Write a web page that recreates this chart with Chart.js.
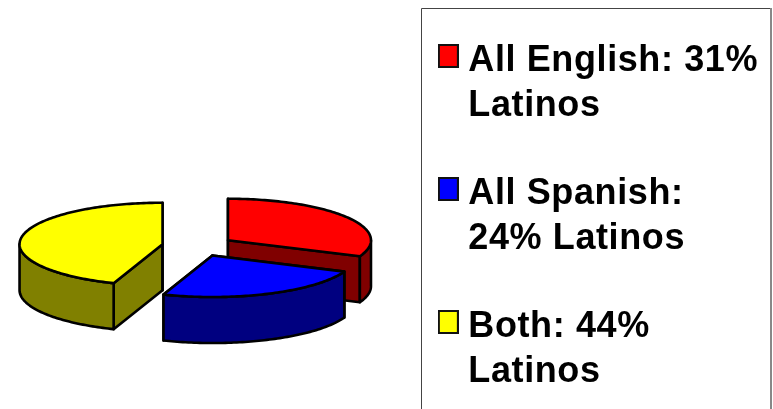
<!DOCTYPE html>
<html>
<head>
<meta charset="utf-8">
<style>
  html, body { margin: 0; padding: 0; background: #fff; overflow: hidden; }
  #wrap { width: 773px; height: 409px; overflow: hidden; }
  canvas { display: block; }
</style>
<script src="https://cdn.jsdelivr.net/npm/chart.js@4/dist/chart.umd.min.js"></script>
</head>
<body>
<div id="wrap"><canvas id="myChart" width="773" height="480"></canvas></div>
<script>
const categories = ["All English", "All Spanish", "Both"];
const shares = [31, 24, 44];
const legendLines = [
  ["All English: 31%", "Latinos"],
  ["All Spanish:", "24% Latinos"],
  ["Both: 44%", "Latinos"],
];
const topColors = ["#ff0000", "#0000ff", "#ffff00"];
const sideColors = ["#800000", "#000080", "#808000"];
const drawOrder = [0, 2, 1];

// where the pie lands on the page and how flat it looks
const pieX = 198;
const pieY = 246;
const squash = 0.29;
const depth = 46;
const explode = 36;

// legend marker, blank space below it lifts it up to the text's cap height
function swatch(color) {
  const c = document.createElement("canvas");
  c.width = 21;
  c.height = 34;
  const g = c.getContext("2d");
  g.fillStyle = "#111";
  g.fillRect(0, 0, 21, 24);
  g.fillStyle = color;
  g.fillRect(2, 2, 17, 20);
  return c;
}

const pie3d = {
  id: "pie3d",
  beforeLayout(chart) {
    chart.ctx.letterSpacing = "0.6px";
  },
  beforeDraw(chart) {
    chart.ctx.letterSpacing = "0.6px";
  },
  beforeDatasetsDraw(chart) {
    const ctx = chart.ctx;
    const arcs = chart.getDatasetMeta(0).data;

    drawOrder.forEach((i) => {
      const arc = arcs[i];
      const mid = (arc.startAngle + arc.endAngle) / 2;
      const r = arc.outerRadius;
      const ax = pieX + Math.cos(mid) * explode;
      const ay = pieY + Math.sin(mid) * explode * squash;
      const rimX = (a) => ax + Math.cos(a) * r;
      const rimY = (a) => ay + Math.sin(a) * r * squash;

      ctx.save();
      ctx.lineWidth = 2.6;
      ctx.lineJoin = "round";
      ctx.strokeStyle = "#000";
      ctx.fillStyle = sideColors[i];

      // cut faces first, the rim wall and top cover what is hidden
      [arc.startAngle, arc.endAngle].forEach((a) => {
        ctx.beginPath();
        ctx.moveTo(ax, ay);
        ctx.lineTo(rimX(a), rimY(a));
        ctx.lineTo(rimX(a), rimY(a) + depth);
        ctx.lineTo(ax, ay + depth);
        ctx.closePath();
        ctx.fill();
        ctx.stroke();
      });

      // rim wall, only the part facing the viewer
      const from = Math.max(arc.startAngle, 0);
      const to = Math.min(arc.endAngle, Math.PI);
      if (to > from) {
        ctx.beginPath();
        for (let a = from; a < to; a += 0.02) ctx.lineTo(rimX(a), rimY(a));
        ctx.lineTo(rimX(to), rimY(to));
        ctx.lineTo(rimX(to), rimY(to) + depth);
        for (let a = to; a > from; a -= 0.02) ctx.lineTo(rimX(a), rimY(a) + depth);
        ctx.lineTo(rimX(from), rimY(from) + depth);
        ctx.closePath();
        ctx.fill();
        ctx.stroke();
      }

      // top face: the library's own arc, flattened
      ctx.save();
      ctx.translate(ax - arc.x, ay);
      ctx.scale(1, squash);
      ctx.translate(0, -arc.y);
      arc.draw(ctx);
      ctx.restore();

      ctx.beginPath();
      ctx.moveTo(ax, ay);
      for (let a = arc.startAngle; a < arc.endAngle; a += 0.02) ctx.lineTo(rimX(a), rimY(a));
      ctx.lineTo(rimX(arc.endAngle), rimY(arc.endAngle));
      ctx.closePath();
      ctx.stroke();
      ctx.restore();
    });
    return false;
  },
  afterDraw(chart) {
    const ctx = chart.ctx;
    ctx.save();
    ctx.lineWidth = 1;
    ctx.strokeStyle = "#444";
    ctx.beginPath();
    ctx.moveTo(421.5, 480);
    ctx.lineTo(421.5, 8.5);
    ctx.lineTo(770.5, 8.5);
    ctx.stroke();
    ctx.strokeStyle = "#888";
    ctx.lineWidth = 2;
    ctx.beginPath();
    ctx.moveTo(771, 8);
    ctx.lineTo(771, 480);
    ctx.stroke();
    ctx.restore();
  },
};

const chart = new Chart(document.getElementById("myChart"), {
  type: "pie",
  data: {
    labels: categories,
    datasets: [
      {
        data: shares,
        backgroundColor: topColors,
        borderWidth: 0,
        radius: 143,
      },
    ],
  },
  options: {
    responsive: false,
    animation: false,
    layout: { padding: { right: 5 } },
    plugins: {
      tooltip: { enabled: false },
      legend: {
        position: "right",
        align: "start",
        labels: {
          usePointStyle: true,
          boxWidth: 4,
          padding: 43,
          color: "#000",
          font: {
            family: "'Liberation Sans', Arial, sans-serif",
            size: 36,
            weight: "bold",
            lineHeight: 1.25,
          },
          generateLabels: () =>
            categories.map((name, i) => ({
              text: legendLines[i],
              pointStyle: swatch(topColors[i]),
              fillStyle: topColors[i],
              lineWidth: 0,
              hidden: false,
              index: i,
            })),
        },
      },
    },
  },
  plugins: [pie3d],
});
</script>
</body>
</html>
